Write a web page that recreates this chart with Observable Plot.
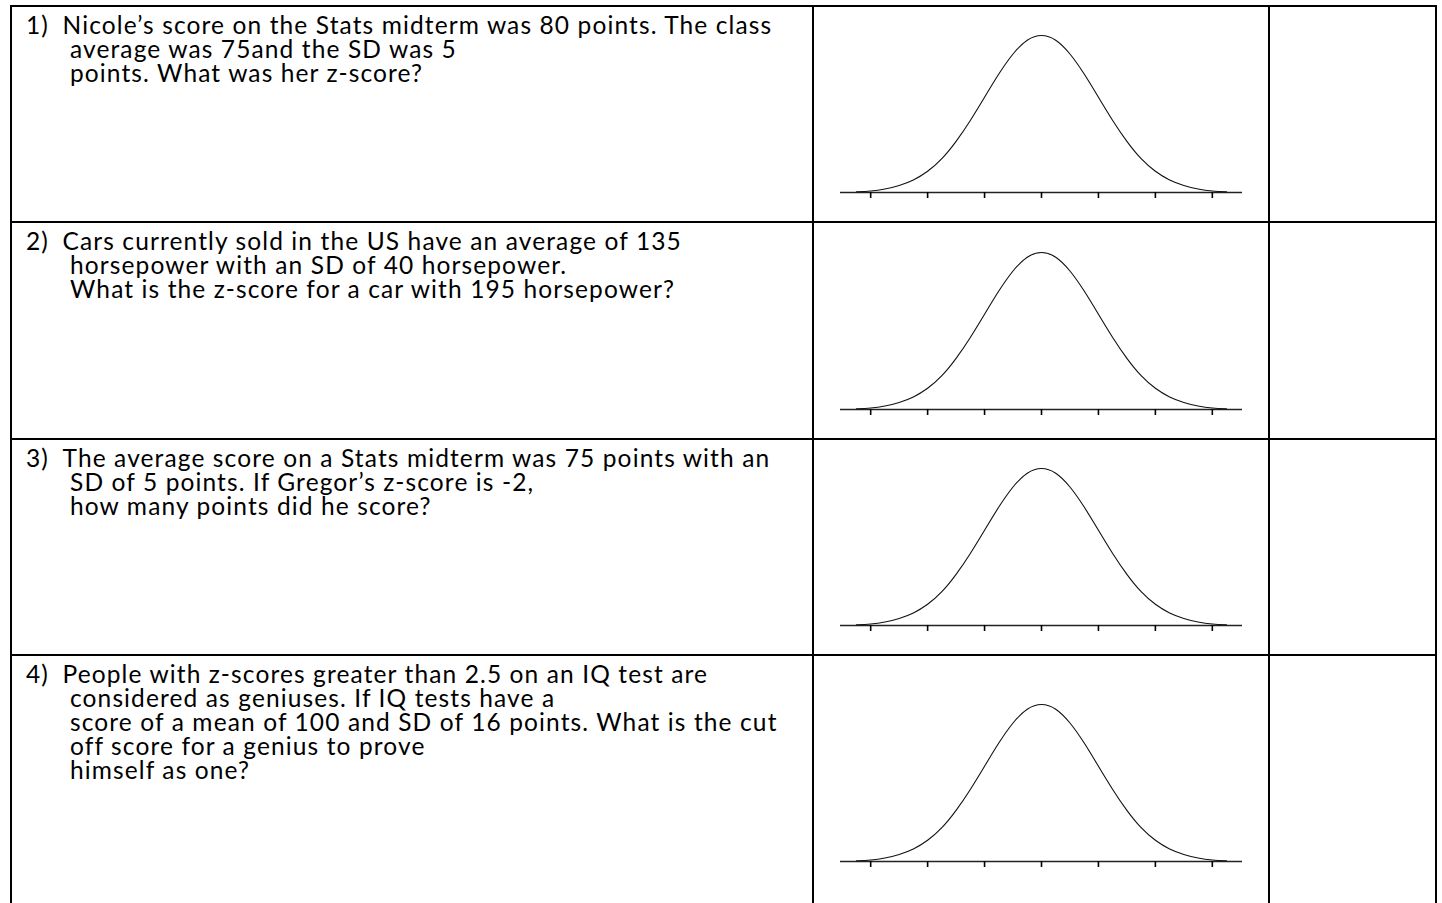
<!DOCTYPE html>
<html>
<head>
<meta charset="utf-8">
<script src="https://cdn.jsdelivr.net/npm/d3@7"></script>
<script src="https://cdn.jsdelivr.net/npm/@observablehq/plot@0.6"></script>
<style>
  html, body { margin: 0; padding: 0; background: #fff; }
  #sheet {
    position: absolute; left: 10px; top: 5px;
    display: grid;
    grid-template-columns: 800px 454px 165px;
    grid-template-rows: 214px 215px 214px 254px;
    gap: 2px; padding: 2px; background: #000;
  }
  .cell { background: #fff; position: relative; overflow: hidden; }
  .plotcell { display: flex; align-items: center; justify-content: center; }
  .line { position: absolute; white-space: pre; font-family: Lato, "Open Sans", sans-serif; color: #000; }
</style>
</head>
<body>
<div id="sheet"></div>
<script>
// ---- data ----
const questionNumbers = ["1)", "2)", "3)", "4)"];
const q1Lines = ["Nicole’s score on the Stats midterm was 80 points. The class", "average was 75and the SD was 5", "points. What was her z-score?"];
const q2Lines = ["Cars currently sold in the US have an average of 135", "horsepower with an SD of 40 horsepower.", "What is the z-score for a car with 195 horsepower?"];
const q3Lines = ["The average score on a Stats midterm was 75 points with an", "SD of 5 points. If Gregor’s z-score is -2,", "how many points did he score?"];
const q4Lines = ["People with z-scores greater than 2.5 on an IQ test are", "considered as geniuses. If IQ tests have a", "score of a mean of 100 and SD of 16 points. What is the cut", "off score for a genius to prove", "himself as one?"];
const questionTexts = [q1Lines, q2Lines, q3Lines, q4Lines];

// bell curve (height relative to baseline, by z)
const zValues = [-3.25, -3, -2.75, -2.5, -2.25, -2, -1.75, -1.5, -1.25, -1, -0.75, -0.5, -0.25, 0,
                 0.25, 0.5, 0.75, 1, 1.25, 1.5, 1.75, 2, 2.25, 2.5, 2.75, 3, 3.25];
const densityValues = [0.002, 0.004, 0.009, 0.018, 0.032, 0.054, 0.086, 0.130, 0.183, 0.242, 0.301, 0.352, 0.387, 0.399,
                       0.387, 0.352, 0.301, 0.242, 0.183, 0.130, 0.086, 0.054, 0.032, 0.018, 0.009, 0.004, 0.002];
const tickValues = [-3, -2, -1, 0, 1, 2, 3];

function render() {
  const fontFamily = "Lato";
  const fontSize = 24.5;
  const ctx = document.createElement("canvas").getContext("2d");
  ctx.font = `${fontSize}px ${fontFamily}`;
  const w = ctx.measureText(q1Lines[0]).width;
  const letterSpacing = Math.max(0, Math.min(1.6, (711 - w) / q1Lines[0].length));
  const lineHeight = 23.9;
  const baselineFirst = 27.7;
  const baselineInBox = (lineHeight - 1.2 * fontSize) / 2 + 0.987 * fontSize;
  const textStyle = `font-size:${fontSize}px;line-height:${lineHeight}px;letter-spacing:${letterSpacing}px`;

  const sheet = document.getElementById("sheet");
  const curve = zValues.map((z, i) => ({z, d: densityValues[i]}));

  questionTexts.forEach((lines, r) => {
    const tc = document.createElement("div");
    tc.className = "cell";
    lines.forEach((txt, i) => {
      if (i === 0) {
        const n = document.createElement("div");
        n.className = "line";
        n.textContent = questionNumbers[r];
        n.style.cssText = `left:14px;top:${baselineFirst - baselineInBox}px;${textStyle}`;
        tc.appendChild(n);
      }
      const d = document.createElement("div");
      d.className = "line";
      d.textContent = txt;
      d.style.cssText = `left:${i === 0 ? 50.5 : 58}px;top:${baselineFirst - baselineInBox + i * lineHeight}px;${textStyle}`;
      tc.appendChild(d);
    });
    sheet.appendChild(tc);

    const pc = document.createElement("div");
    pc.className = "cell plotcell";
    const chart = Plot.plot({
      width: 454, height: 214,
      marginLeft: 26, marginRight: 26, marginTop: 28, marginBottom: 29,
      x: {domain: [-3.53, 3.53]},
      y: {domain: [0, 0.399], axis: null},
      marks: [
        Plot.ruleY([0], {stroke: "#222", strokeWidth: 1.3}),
        Plot.axisX({ticks: tickValues, tickSize: 6, tickFormat: () => "", label: null, strokeWidth: 1.6, stroke: "#000"}),
        Plot.line(curve, {x: "z", y: "d", curve: "natural", stroke: "#111", strokeWidth: 1.1})
      ]
    });
    chart.style.display = "block";
    pc.appendChild(chart);
    sheet.appendChild(pc);

    const ac = document.createElement("div");
    ac.className = "cell";
    sheet.appendChild(ac);
  });
}

if (document.fonts && document.fonts.load) {
  document.fonts.load("100px Lato").then(render, render);
} else {
  render();
}
</script>
</body>
</html>
